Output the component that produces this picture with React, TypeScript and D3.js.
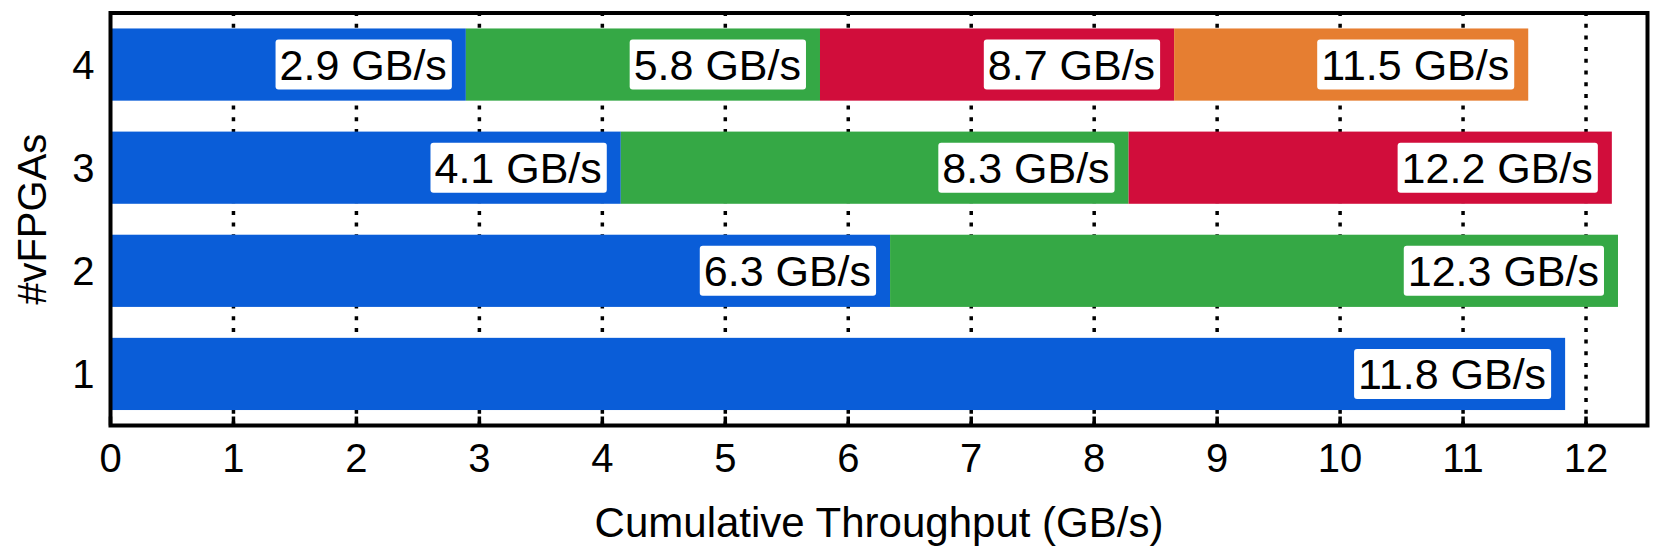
import React, { useRef, useEffect } from 'react';
import * as d3 from 'd3';

// cumulative throughput per vFPGA count: where each segment ends, and the printed label
const vfpgaCounts = ['1', '2', '3', '4'];
const oneVfpgaEnds = [11.83];
const twoVfpgaEnds = [6.34, 12.26];
const threeVfpgaEnds = [4.15, 8.28, 12.21];
const fourVfpgaEnds = [2.89, 5.77, 8.65, 11.53];
const oneVfpgaLabels = [11.8];
const twoVfpgaLabels = [6.3, 12.3];
const threeVfpgaLabels = [4.1, 8.3, 12.2];
const fourVfpgaLabels = [2.9, 5.8, 8.7, 11.5];
const xTicks = [0, 1, 2, 3, 4, 5, 6, 7, 8, 9, 10, 11, 12];
const segColors = ['#0a5dd8', '#35a845', '#d10d3b', '#e67e31'];

const App = () => {
    const chartRef = useRef<SVGSVGElement>(null);

    useEffect(() => {
        const width = 1661;
        const height = 554;
        const margin = { top: 13, right: 13.5, bottom: 128.5, left: 110.5 };
        const font = '"Liberation Sans", Arial, Helvetica, sans-serif';

        const rows = [oneVfpgaEnds, twoVfpgaEnds, threeVfpgaEnds, fourVfpgaEnds];
        const labels = [oneVfpgaLabels, twoVfpgaLabels, threeVfpgaLabels, fourVfpgaLabels];

        const x = d3.scaleLinear()
            .domain([0, 12.5])
            .range([margin.left, width - margin.right]);

        const y = d3.scaleBand()
            .domain(vfpgaCounts.slice().reverse())
            .range([margin.top, height - margin.bottom])
            .paddingInner(0.3)
            .paddingOuter(0.15);

        const svg = d3.select(chartRef.current)
            .attr("width", width)
            .attr("height", height);

        svg.selectAll("*").remove();

        // dotted grid
        svg.append("g")
            .selectAll("line")
            .data(xTicks.filter(t => t > 0))
            .join("line")
            .attr("x1", d => x(d))
            .attr("x2", d => x(d))
            .attr("y1", height - margin.bottom)
            .attr("y2", margin.top)
            .attr("stroke", "#000")
            .attr("stroke-width", 3.5)
            .attr("stroke-dasharray", "4,7.7");

        // bars
        rows.forEach((ends, i) => {
            const g = svg.append("g");
            const yPos = y(vfpgaCounts[i])!;
            const bw = y.bandwidth();
            const segs = ends.map((e, j) => ({ start: j === 0 ? 0 : ends[j - 1], end: e, label: labels[i][j], j }));

            g.selectAll("rect")
                .data(segs)
                .join("rect")
                .attr("x", d => x(d.start))
                .attr("y", yPos)
                .attr("width", d => x(d.end) - x(d.start))
                .attr("height", bw)
                .attr("fill", d => segColors[d.j]);

            segs.forEach(d => {
                const lg = g.append("g");
                const box = lg.append("rect")
                    .attr("fill", "#fff")
                    .attr("rx", 3)
                    .attr("ry", 3);
                const right = x(d.end) - 19;
                const txt = lg.append("text")
                    .attr("x", right)
                    .attr("y", yPos + bw / 2)
                    .attr("dy", "0.36em")
                    .attr("text-anchor", "end")
                    .style("font-family", font)
                    .style("font-size", "43px")
                    .text(`${d.label.toFixed(1)} GB/s`);
                const tw = (txt.node() as SVGTextElement).getComputedTextLength();
                box.attr("x", right - tw - 4)
                    .attr("y", yPos + bw / 2 - 25)
                    .attr("width", tw + 9)
                    .attr("height", 50);
            });
        });

        // inner ticks at the bottom
        svg.append("g")
            .selectAll("line")
            .data(xTicks)
            .join("line")
            .attr("x1", d => x(d))
            .attr("x2", d => x(d))
            .attr("y1", height - margin.bottom)
            .attr("y2", height - margin.bottom - 9)
            .attr("stroke", "#000")
            .attr("stroke-width", 3.5);

        // frame
        svg.append("rect")
            .attr("x", margin.left)
            .attr("y", margin.top)
            .attr("width", width - margin.left - margin.right)
            .attr("height", height - margin.top - margin.bottom)
            .attr("fill", "none")
            .attr("stroke", "#000")
            .attr("stroke-width", 4);

        // x tick labels
        svg.append("g")
            .selectAll("text")
            .data(xTicks)
            .join("text")
            .attr("x", d => x(d))
            .attr("y", 458)
            .attr("dy", "0.36em")
            .attr("text-anchor", "middle")
            .style("font-family", font)
            .style("font-size", "40px")
            .text(d => d);

        // y tick labels
        svg.append("g")
            .selectAll("text")
            .data(vfpgaCounts)
            .join("text")
            .attr("x", margin.left - 16)
            .attr("y", d => y(d)! + y.bandwidth() / 2)
            .attr("dy", "0.36em")
            .attr("text-anchor", "end")
            .style("font-family", font)
            .style("font-size", "40px")
            .text(d => d);

        // axis titles
        svg.append("text")
            .attr("x", (margin.left + width - margin.right) / 2)
            .attr("y", 522)
            .attr("dy", "0.36em")
            .attr("text-anchor", "middle")
            .style("font-family", font)
            .style("font-size", "42px")
            .text("Cumulative Throughput (GB/s)");

        svg.append("text")
            .attr("transform", `translate(32,${(margin.top + height - margin.bottom) / 2}) rotate(-90)`)
            .attr("dy", "0.36em")
            .attr("text-anchor", "middle")
            .style("font-family", font)
            .style("font-size", "40px")
            .text("#vFPGAs");
    }, []);

    return (
        <svg ref={chartRef} style={{ position: 'absolute', left: 0, top: 0 }}></svg>
    );
};

export default App;
